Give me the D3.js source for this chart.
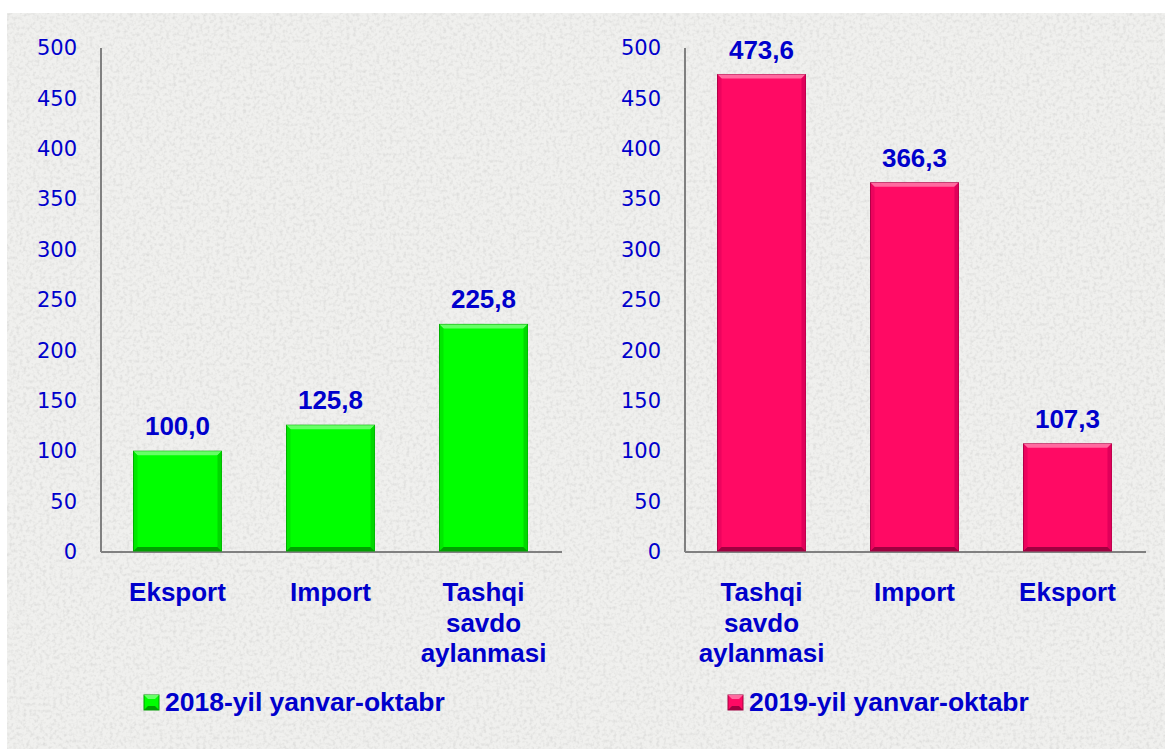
<!DOCTYPE html>
<html>
<head>
<meta charset="utf-8">
<script src="https://cdn.jsdelivr.net/npm/d3@7"></script>
<style>
  html, body { margin: 0; padding: 0; background: #fff; }
  svg { display: block; }
</style>
</head>
<body>
<div id="chart"></div>
<script>
// data
const cats2018 = [["Eksport"], ["Import"], ["Tashqi", "savdo", "aylanmasi"]];
const vals2018 = [100.0, 125.8, 225.8];
const cats2019 = [["Tashqi", "savdo", "aylanmasi"], ["Import"], ["Eksport"]];
const vals2019 = [473.6, 366.3, 107.3];
const yTicks = [0, 50, 100, 150, 200, 250, 300, 350, 400, 450, 500];
const legend2018 = "2018-yil yanvar-oktabr";
const legend2019 = "2019-yil yanvar-oktabr";

var W = 1165, H = 749;
var blue = "#0000cc";

var svg = d3.select("#chart").append("svg")
  .attr("width", W)
  .attr("height", H);

// paper texture
var defs = svg.append("defs");
var f = defs.append("filter").attr("id", "paper")
  .attr("x", 0).attr("y", 0).attr("width", "100%").attr("height", "100%");
f.append("feTurbulence").attr("type", "fractalNoise")
  .attr("baseFrequency", 0.3).attr("numOctaves", 2).attr("seed", 7).attr("result", "n");
f.append("feColorMatrix").attr("type", "matrix")
  .attr("values", "0 0 0 0 0.6  0 0 0 0 0.6  0 0 0 0 0.59  0 0 0 -2.2 1.25");

svg.append("rect").attr("x", 7).attr("y", 13).attr("width", W - 7).attr("height", H - 13)
  .attr("fill", "#f0f0ee");
svg.append("rect").attr("x", 7).attr("y", 13).attr("width", W - 7).attr("height", H - 13)
  .attr("filter", "url(#paper)").attr("opacity", 0.5);

var y = d3.scaleLinear().domain([0, 500]).range([552, 48]);

function panel(axisX, cats, vals, col, legendText, legendX) {
  var x = d3.scaleBand()
    .domain(d3.range(vals.length))
    .range([axisX, axisX + 459])
    .paddingInner(0.425).paddingOuter(0.2125);

  var g = svg.append("g");

  // y axis labels
  var ya = g.append("g")
    .attr("transform", "translate(" + axisX + ",0)")
    .call(d3.axisLeft(y).tickValues(yTicks).tickSize(0).tickPadding(24));
  ya.select(".domain").remove();
  ya.selectAll("text")
    .attr("fill", blue)
    .style("font-family", "DejaVu Sans, sans-serif")
    .style("font-size", "21px");

  // axis lines
  g.append("line")
    .attr("x1", axisX).attr("x2", axisX)
    .attr("y1", y(500)).attr("y2", y(0))
    .attr("stroke", "#808080").attr("stroke-width", 2);
  g.append("line")
    .attr("x1", axisX).attr("x2", axisX + 461)
    .attr("y1", y(0)).attr("y2", y(0))
    .attr("stroke", "#808080").attr("stroke-width", 2);

  // bars with bevel
  var bars = g.selectAll(".bar").data(vals).enter().append("g");
  var b = 4;
  bars.append("rect")
    .attr("x", (d, i) => x(i))
    .attr("y", d => y(d))
    .attr("width", x.bandwidth())
    .attr("height", d => y(0) - y(d) - 1)
    .attr("fill", col.main)
    .attr("stroke", col.dark)
    .attr("stroke-width", 1);
  // top light strip
  bars.append("polygon")
    .attr("points", function (d, i) {
      var x0 = x(i), x1 = x(i) + x.bandwidth(), t = y(d);
      return [[x0, t], [x1, t], [x1 - b, t + b], [x0 + b, t + b]].join(" ");
    })
    .attr("fill", col.light);
  // side/bottom darker strips
  bars.append("polygon")
    .attr("points", function (d, i) {
      var x1 = x(i) + x.bandwidth(), t = y(d), bt = y(0) - 1;
      return [[x1, t], [x1, bt], [x1 - b, bt - b], [x1 - b, t + b]].join(" ");
    })
    .attr("fill", col.side);
  bars.append("polygon")
    .attr("points", function (d, i) {
      var x0 = x(i), t = y(d), bt = y(0) - 1;
      return [[x0, t], [x0 + b, t + b], [x0 + b, bt - b], [x0, bt]].join(" ");
    })
    .attr("fill", col.side).attr("opacity", 0.6);
  bars.append("polygon")
    .attr("points", function (d, i) {
      var x0 = x(i), x1 = x(i) + x.bandwidth(), bt = y(0) - 1;
      return [[x0, bt], [x0 + b, bt - b], [x1 - b, bt - b], [x1, bt]].join(" ");
    })
    .attr("fill", col.dark);

  // value labels
  g.selectAll(".val").data(vals).enter().append("text")
    .attr("x", (d, i) => x(i) + x.bandwidth() / 2)
    .attr("y", d => y(d) - 16)
    .attr("text-anchor", "middle")
    .attr("fill", blue)
    .style("font-family", "Liberation Sans, Arial, sans-serif")
    .style("font-weight", "bold")
    .style("font-size", "26px")
    .text(d => d.toFixed(1).replace(".", ","));

  // category labels
  var cl = g.selectAll(".cat").data(cats).enter().append("text")
    .attr("text-anchor", "middle")
    .attr("fill", blue)
    .style("font-family", "Liberation Sans, Arial, sans-serif")
    .style("font-weight", "bold")
    .style("font-size", "26px");
  cl.selectAll("tspan").data((d, i) => d.map(s => ({ s: s, i: i }))).enter().append("tspan")
    .attr("x", d => x(d.i) + x.bandwidth() / 2)
    .attr("y", (d, j) => 601 + j * 30.5)
    .text(d => d.s);

  // legend
  var lg = g.append("g").attr("transform", "translate(" + legendX + ",695)");
  lg.append("rect").attr("width", 15).attr("height", 15)
    .attr("fill", col.main).attr("stroke", col.dark).attr("stroke-width", 1);
  lg.append("polygon").attr("points", "0,0 15,0 11,4 4,4").attr("fill", col.light);
  lg.append("polygon").attr("points", "0,15 4,11 11,11 15,15").attr("fill", col.dark);
  lg.append("text")
    .attr("x", 21).attr("y", 16)
    .attr("fill", blue)
    .style("font-family", "Liberation Sans, Arial, sans-serif")
    .style("font-weight", "bold")
    .style("font-size", "26.5px")
    .text(legendText);
}

panel(101, cats2018, vals2018,
  { main: "#00ff00", light: "#66ff66", side: "#00d800", dark: "#00a000" },
  legend2018, 144);
panel(685, cats2019, vals2019,
  { main: "#ff0a64", light: "#ff6aa0", side: "#e0005a", dark: "#a00040" },
  legend2019, 728);
</script>
</body>
</html>
